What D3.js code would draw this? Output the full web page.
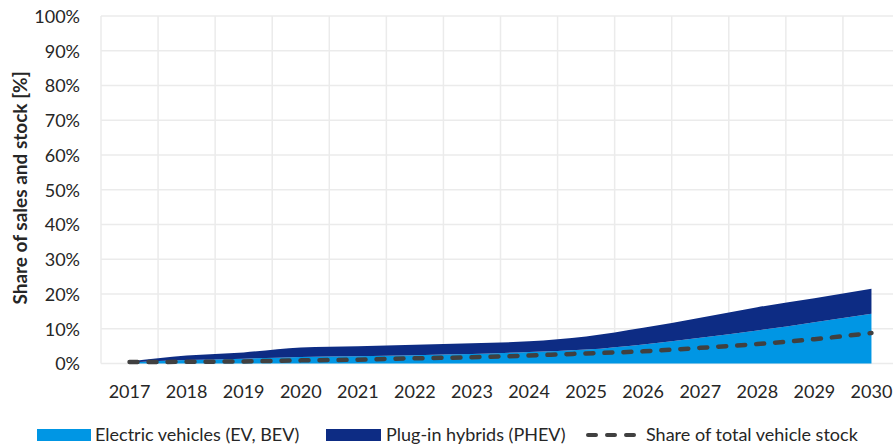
<!DOCTYPE html>
<html>
<head>
<meta charset="utf-8">
<script src="https://cdn.jsdelivr.net/npm/d3@7"></script>
<style>
  html, body { margin: 0; padding: 0; background: #fff; }
  svg { display: block; }
  text { font-family: Lato, "Open Sans", sans-serif; fill: #262626; }
</style>
</head>
<body>
<svg id="chart" width="893" height="448"></svg>
<script>
const years = ["2017","2018","2019","2020","2021","2022","2023","2024","2025","2026","2027","2028","2029","2030"];
const evShare   = [0.3, 1.0, 1.4, 1.9, 2.1, 2.4, 2.7, 3.3, 4.0, 5.5, 7.4, 9.5, 11.9, 14.3];
const phevShare = [0.3, 1.3, 1.8, 2.7, 2.9, 3.0, 3.1, 3.1, 3.8, 4.8, 5.8, 6.7, 6.9, 7.2];
const stockShare = [0.4, 0.5, 0.6, 0.9, 1.1, 1.5, 1.8, 2.3, 2.9, 3.5, 4.5, 5.6, 7.0, 8.8];
const yTicks = [0,10,20,30,40,50,60,70,80,90,100];
const seriesNames = ["Electric vehicles (EV, BEV)", "Plug-in hybrids (PHEV)", "Share of total vehicle stock"];
const colors = { ev: "#0096e4", phev: "#0d2c84", stock: "#404040", grid: "#ebebeb" };

const svg = d3.select("#chart");
const mLeft = 101, mRight = 900, mTop = 16, mBottom = 363.5;

const x = d3.scaleBand().domain(years).range([mLeft, mRight]).paddingInner(0).paddingOuter(0);
const xc = d => x(d) + x.bandwidth() / 2;
const y = d3.scaleLinear().domain([0, 100]).range([mBottom, mTop]);

const defs = svg.append("defs");
defs.append("clipPath").attr("id", "clip").append("rect")
  .attr("x", mLeft).attr("y", mTop - 2).attr("width", mRight - mLeft).attr("height", mBottom - mTop + 4);

// gridlines
const grid = svg.append("g");
grid.selectAll("line.h").data(yTicks).join("line")
  .attr("x1", mLeft).attr("x2", mRight)
  .attr("y1", d => y(d)).attr("y2", d => y(d))
  .attr("stroke", colors.grid).attr("stroke-width", 1.5);
const bounds = years.map(d => x(d)).concat([mRight]);
grid.selectAll("line.v").data(bounds).join("line")
  .attr("x1", d => d).attr("x2", d => d)
  .attr("y1", mTop).attr("y2", mBottom)
  .attr("stroke", colors.grid).attr("stroke-width", 1.5);

// stacked data
const data = years.map((yr, i) => ({ year: yr, ev: evShare[i], phev: phevShare[i], stock: stockShare[i] }));
const stacked = d3.stack().keys(["ev", "phev"])(data);

const area = d3.area()
  .x(d => xc(d.data.year))
  .y0(d => y(d[0]))
  .y1(d => y(d[1]))
  .curve(d3.curveMonotoneX);

const plot = svg.append("g").attr("clip-path", "url(#clip)");
plot.selectAll("path.area").data(stacked).join("path")
  .attr("d", area)
  .attr("fill", d => d.key === "ev" ? colors.ev : colors.phev);

const line = d3.line()
  .x(d => xc(d.year))
  .y(d => y(d.stock))
  .curve(d3.curveMonotoneX);
plot.append("path").datum(data)
  .attr("d", line)
  .attr("fill", "none")
  .attr("stroke", colors.stock)
  .attr("stroke-width", 4.5)
  .attr("stroke-linecap", "round")
  .attr("stroke-dasharray", "8,11");

// y axis labels
const yAxis = d3.axisLeft(y).tickValues(yTicks).tickFormat(d => d + "%").tickSize(0).tickPadding(0);
const yg = svg.append("g").attr("transform", "translate(80,0)").call(yAxis);
yg.select(".domain").remove();
yg.selectAll("text").style("font-size", "18px").style("font-family", "Lato, sans-serif").attr("fill", "#262626").attr("dy", "0.35em");

// x axis labels
const xAxis = d3.axisBottom(x).tickSize(0).tickPadding(0);
const xg = svg.append("g").attr("transform", "translate(0,392)").call(xAxis);
xg.select(".domain").remove();
xg.selectAll("text").style("font-size", "18px").style("font-family", "Lato, sans-serif").attr("fill", "#262626").attr("dy", "0.35em");

// y title
svg.append("text")
  .attr("transform", `translate(27,188) rotate(-90)`)
  .attr("text-anchor", "middle")
  .style("font-size", "19px").style("font-weight", "bold")
  .attr("fill", "#1a1a1a")
  .text("Share of sales and stock [%]");

// legend
const leg = svg.append("g");
const ly = 435;
const fs = "18px";
leg.append("rect").attr("x", 37).attr("y", ly - 6).attr("width", 54).attr("height", 12).attr("fill", colors.ev);
leg.append("text").attr("x", 95).attr("y", ly).attr("dy", "0.35em").style("font-size", fs).text(seriesNames[0]);
leg.append("rect").attr("x", 326).attr("y", ly - 6).attr("width", 55).attr("height", 12).attr("fill", colors.phev);
leg.append("text").attr("x", 386).attr("y", ly).attr("dy", "0.35em").style("font-size", fs).text(seriesNames[1]);
leg.append("line").attr("x1", 588).attr("x2", 637).attr("y1", ly).attr("y2", ly)
  .attr("stroke", colors.stock).attr("stroke-width", 4).attr("stroke-linecap", "round").attr("stroke-dasharray", "8,11");
leg.append("text").attr("x", 646).attr("y", ly).attr("dy", "0.35em").style("font-size", fs).text(seriesNames[2]);
</script>
</body>
</html>
